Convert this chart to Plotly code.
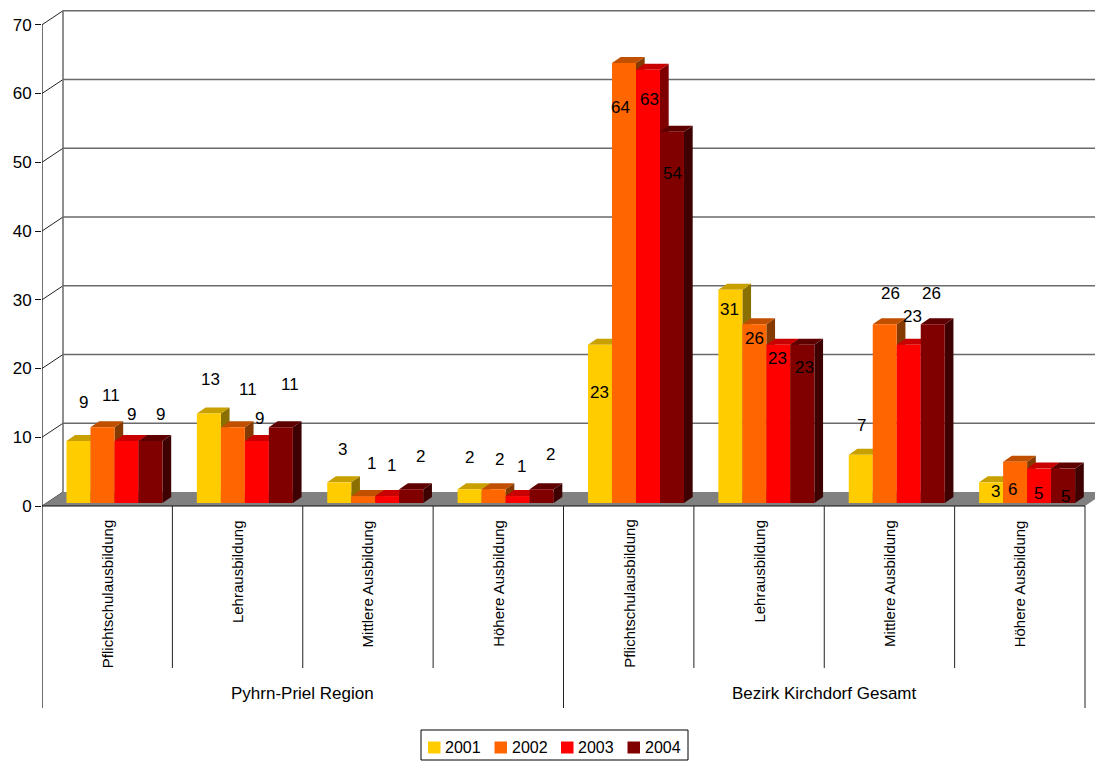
import plotly.graph_objects as go

# ---- data -------------------------------------------------------------
groups = ["Pyhrn-Priel Region", "Bezirk Kirchdorf Gesamt"]
categories = ["Pflichtschulausbildung", "Lehrausbildung", "Mittlere Ausbildung", "Höhere Ausbildung",
              "Pflichtschulausbildung", "Lehrausbildung", "Mittlere Ausbildung", "Höhere Ausbildung"]
years = ["2001", "2002", "2003", "2004"]
v2001 = [9, 13, 3, 2, 23, 31, 7, 3]
v2002 = [11, 11, 1, 2, 64, 26, 26, 6]
v2003 = [9, 9, 1, 1, 63, 23, 23, 5]
v2004 = [9, 11, 2, 2, 54, 23, 26, 5]
y_ticks = [0, 10, 20, 30, 40, 50, 60, 70]
series = [v2001, v2002, v2003, v2004]

# ---- styling ------------------------------------------------------------
FRONT = ["#FFCC00", "#FF6600", "#FF0000", "#800000"]
TOP = ["#C8A000", "#C05000", "#C80000", "#5E0000"]
SIDE = ["#8A7000", "#843A00", "#800000", "#3E0000"]
FONT = "Liberation Sans, Arial, sans-serif"
GRID = "#6a6a6a"

# value-label placement (pixels, relative to the front top edge of each bar)
LBL_DX = [
    [4.8, 1.8, 3.0, -0.3, -0.7, -1.1, 0.3, 4.6],
    [8.5, 14.8, 7.8, 5.7, -3.7, 0.6, 6.0, -2.4],
    [5.2, 3.1, 4.5, 4.1, 1.3, -0.7, 4.0, -0.8],
    [10.2, 9.1, 9.5, 8.4, 0.3, 2.6, -1.1, 2.2],
]
LBL_DY = [
    [-38.5, -34.4, -33.1, -31.6, 47.7, 19.3, -29.2, 9.3],
    [-31.7, -38.1, -32.8, -30.0, 44.4, 14.6, -31.1, 27.5],
    [-26.9, -22.2, -30.4, -30.1, 29.2, 13.3, -28.3, 24.7],
    [-26.9, -42.4, -32.6, -34.3, 42.0, 22.3, -31.1, 28.1],
]

# ---- geometry -----------------------------------------------------------
W, H = 1095, 761
ML = 42
PX_U = 130.375           # pixels per category
PX_V = 6.875             # pixels per value unit
ZERO_PX = 506            # screen row of value 0 on the front axis
X_MAX = (W - ML) / PX_U
Y_MAX = ZERO_PX / PX_V
Y_MIN = -(H - ZERO_PX) / PX_V

def du(px):
    return px / PX_U

def dv(px):
    return px / PX_V

def row(px):
    """value coordinate of a screen row"""
    return (ZERO_PX - px) / PX_V

def col(px):
    """category coordinate of a screen column"""
    return (px - ML) / PX_U

WALL_DX, WALL_DY = du(21), dv(14)      # depth of the floor / back wall
BAR_DX, BAR_DY = du(8.7), dv(6)        # depth of a bar
BAR_BASE = dv(3)                       # bars stand slightly behind the front edge
BAR_W = du(24)
BAR_SHIFT = 7.3                        # px, bar cluster shift from category centre

n_cat = len(categories)
shapes = []

def line(x0, y0, x1, y1, color, width=1):
    shapes.append(dict(type="line", xref="x", yref="y", x0=x0, y0=y0, x1=x1, y1=y1,
                       line=dict(color=color, width=width), layer="below"))

def poly(pts, color):
    path = "M " + " L ".join(f"{x},{y}" for x, y in pts) + " Z"
    shapes.append(dict(type="path", xref="x", yref="y", path=path, fillcolor=color,
                       line=dict(width=0), layer="below"))

# back wall grid and slanted connectors
for t in y_ticks[1:]:
    line(WALL_DX, t + WALL_DY, X_MAX + 1, t + WALL_DY, GRID, 1.5)
for t in y_ticks:
    line(0, t, WALL_DX, t + WALL_DY, "#222222", 1)
line(WALL_DX, WALL_DY, WALL_DX, y_ticks[-1] + WALL_DY, GRID, 1.5)

# floor
poly([(0, 0), (n_cat, 0), (n_cat + WALL_DX, WALL_DY), (WALL_DX, WALL_DY)], "#808080")

# 3D faces of the bars (front faces are the bar traces)
def bar_x(k, i):
    return k + 0.5 + du(BAR_SHIFT + (i - 1.5) * 24)

for k in range(n_cat):
    for i, vals in enumerate(series):
        xc = bar_x(k, i)
        xl, xr = xc - BAR_W / 2, xc + BAR_W / 2
        yb, yt = BAR_BASE, BAR_BASE + vals[k]
        poly([(xr, yb), (xr + BAR_DX, yb + BAR_DY), (xr + BAR_DX, yt + BAR_DY), (xr, yt)], SIDE[i])
        poly([(xl, yt), (xr, yt), (xr + BAR_DX, yt + BAR_DY), (xl + BAR_DX, yt + BAR_DY)], TOP[i])

# category frame below the floor
line(0, 0, n_cat, 0, "#111111", 1)
line(0, y_ticks[-1], 0, row(708), "#111111", 1.2)
for k in range(1, n_cat + 1):
    bottom = row(708) if k in (n_cat // 2, n_cat) else row(668)
    line(k, 0, k, bottom, "#222222", 1)

fig = go.Figure()
for i, vals in enumerate(series):
    fig.add_trace(go.Bar(
        x=[bar_x(k, i) for k in range(n_cat)], y=vals, base=BAR_BASE, width=BAR_W,
        name=years[i], marker=dict(color=FRONT[i], line=dict(width=0)), showlegend=False,
    ))

annotations = []
for i, vals in enumerate(series):
    for k in range(n_cat):
        annotations.append(dict(
            x=bar_x(k, i), y=BAR_BASE + vals[k], text=str(vals[k]), showarrow=False,
            xshift=LBL_DX[i][k], yshift=-LBL_DY[i][k], xanchor="center", yanchor="middle",
            font=dict(family=FONT, size=17, color="#000000")))
for k, name in enumerate(categories):
    annotations.append(dict(
        x=k + 0.5, y=row(518), text=name, textangle=-90, showarrow=False,
        xanchor="center", yanchor="top", font=dict(family=FONT, size=15, color="#000000")))
for g, name in enumerate(groups):
    annotations.append(dict(
        x=g * 4 + 2, y=row(693), text=name, showarrow=False,
        xanchor="center", yanchor="middle", font=dict(family=FONT, size=17, color="#000000")))

# legend box: colour swatch + year for each series
shapes.append(dict(type="rect", xref="x", yref="y", x0=col(421), x1=col(688),
                   y0=row(730), y1=row(760), fillcolor="white",
                   line=dict(color="#000000", width=1), layer="above"))
for i, name in enumerate(years):
    sx = 428 + 66.5 * i
    shapes.append(dict(type="rect", xref="x", yref="y", x0=col(sx), x1=col(sx + 12.5),
                       y0=row(741.5), y1=row(753.5), fillcolor=FRONT[i],
                       line=dict(width=0), layer="above"))
    annotations.append(dict(
        x=col(sx + 15), y=row(747), text=name, showarrow=False, xanchor="left",
        yanchor="middle", font=dict(family=FONT, size=16, color="#000000")))

fig.update_layout(
    width=W, height=H, template="none", barmode="overlay",
    margin=dict(l=ML, r=0, t=0, b=0, autoexpand=False),
    paper_bgcolor="white", plot_bgcolor="white",
    shapes=shapes, annotations=annotations, showlegend=False,
    xaxis=dict(range=[0, X_MAX], visible=False, fixedrange=True),
    yaxis=dict(range=[Y_MIN, Y_MAX], tickvals=y_ticks, ticks="outside", ticklen=6,
               tickcolor="#111111", showgrid=False, zeroline=False, showline=False,
               tickfont=dict(family=FONT, size=17, color="#000000"), fixedrange=True),
)

fig.write_html("out.html")
